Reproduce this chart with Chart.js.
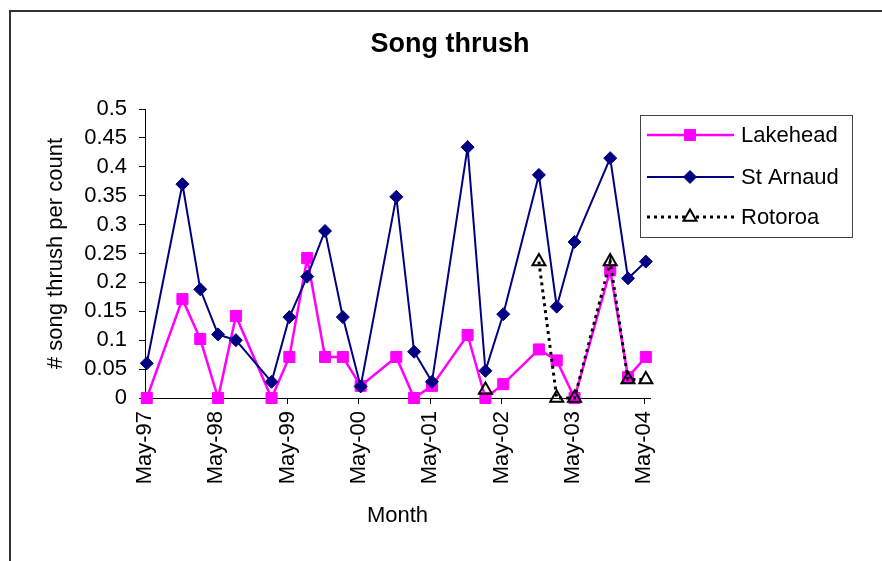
<!DOCTYPE html>
<html>
<head>
<meta charset="utf-8">
<title>Song thrush</title>
<script src="https://cdn.jsdelivr.net/npm/chart.js@4/dist/chart.umd.min.js"></script>
<style>
  html, body { margin: 0; padding: 0; background: #fff; }
  canvas { display: block; }
</style>
</head>
<body>
<canvas id="myChart" width="882" height="561"></canvas>
<script>
// Dados do gráfico
const months = ['May-97', 'Nov-97', 'Feb-98', 'May-98', 'Aug-98', 'Feb-99', 'May-99', 'Aug-99',
    'Nov-99', 'Feb-00', 'May-00', 'Nov-00', 'Feb-01', 'May-01', 'Nov-01', 'Feb-02', 'May-02',
    'Nov-02', 'Feb-03', 'May-03', 'Nov-03', 'Feb-04', 'May-04'];
const sampleDay = 10;

const lakehead = [0, 0.171, 0.102, 0, 0.142, 0, 0.071, 0.242, 0.071, 0.071, 0.021, 0.071,
    0, 0.021, 0.109, 0, 0.024, 0.084, 0.065, 0, 0.221, 0.036, 0.071];
const stArnaud = [0.06, 0.37, 0.188, 0.11, 0.1, 0.028, 0.14, 0.21, 0.289, 0.14, 0.02, 0.348,
    0.08, 0.028, 0.434, 0.047, 0.145, 0.386, 0.158, 0.27, 0.415, 0.207, 0.236];
const rotoroa = [null, null, null, null, null, null, null, null, null, null, null, null,
    null, null, null, 0.014, null, 0.236, 0, 0, 0.236, 0.032, 0.032];

const xTickLabels = ['May-97', 'May-98', 'May-99', 'May-00', 'May-01', 'May-02', 'May-03', 'May-04'];
const yTickLabels = ['0', '0.05', '0.1', '0.15', '0.2', '0.25', '0.3', '0.35', '0.4', '0.45', '0.5'];
const chartTitle = 'Song thrush';

const FONT = 'Arial, "Liberation Sans", sans-serif';
const monthNames = ['Jan', 'Feb', 'Mar', 'Apr', 'May', 'Jun', 'Jul', 'Aug', 'Sep', 'Oct', 'Nov', 'Dec'];

// meses desde May-97
function monthPos(label) {
    const [m, yy] = label.split('-');
    const year = +yy < 50 ? 2000 + +yy : 1900 + +yy;
    return (year - 1997) * 12 + monthNames.indexOf(m) - 4 + (sampleDay - 1) / 30;
}

function toPoints(values) {
    return values.map((v, i) => ({ x: monthPos(months[i]), y: v }));
}

// moldura e título, centrado na moldura
const framePlugin = {
    id: 'frame',
    beforeDraw(chart) {
        const ctx = chart.ctx;
        ctx.save();
        ctx.fillStyle = '#fff';
        ctx.fillRect(0, 0, chart.width, chart.height);
        ctx.strokeStyle = '#333';
        ctx.lineWidth = 2;
        ctx.strokeRect(10, 11, chart.width + 20, chart.height + 20);
        ctx.fillStyle = '#000';
        ctx.font = 'bold 27px ' + FONT;
        ctx.textAlign = 'center';
        ctx.textBaseline = 'middle';
        ctx.fillText(chartTitle, 450, 45);
        ctx.restore();
    }
};

// legenda com caixa
const boxLegend = {
    id: 'boxLegend',
    afterDraw(chart) {
        const ctx = chart.ctx;
        ctx.save();
        ctx.strokeStyle = '#444';
        ctx.lineWidth = 1;
        ctx.setLineDash([]);
        ctx.strokeRect(640.5, 115.5, 212, 122);
        const rows = [135, 177, 217];
        chart.data.datasets.forEach((ds, i) => {
            const y = rows[i];
            ctx.save();
            ctx.strokeStyle = ds.borderColor;
            ctx.lineWidth = ds.borderWidth;
            ctx.setLineDash(ds.borderDash || []);
            ctx.beginPath();
            ctx.moveTo(647, y);
            ctx.lineTo(734, y);
            ctx.stroke();
            ctx.setLineDash([]);
            ctx.fillStyle = ds.legendFill || ds.pointBackgroundColor;
            ctx.strokeStyle = ds.pointBorderColor;
            ctx.lineWidth = ds.pointBorderWidth;
            Chart.helpers.drawPoint(ctx, {
                pointStyle: ds.pointStyle, radius: ds.pointRadius,
                borderWidth: ds.pointBorderWidth, rotation: 0
            }, 690, y);
            ctx.restore();
            ctx.fillStyle = '#000';
            ctx.font = '22px ' + FONT;
            ctx.textBaseline = 'middle';
            ctx.textAlign = 'left';
            ctx.fillText(ds.label, 741, y + 1);
        });
        ctx.restore();
    }
};

const data = {
    datasets: [{
        label: 'Lakehead',
        data: toPoints(lakehead),
        borderColor: '#ff00ff',
        borderWidth: 2.5,
        pointStyle: 'rect',
        pointRadius: 7.8,
        pointBackgroundColor: '#ff00ff',
        pointBorderColor: '#ff00ff',
        pointBorderWidth: 1,
        order: 3
    }, {
        label: 'St Arnaud',
        data: toPoints(stArnaud),
        borderColor: '#000080',
        borderWidth: 2,
        pointStyle: 'rectRot',
        pointRadius: 6.5,
        pointBackgroundColor: '#000080',
        pointBorderColor: '#000080',
        pointBorderWidth: 1,
        order: 2
    }, {
        label: 'Rotoroa',
        data: toPoints(rotoroa),
        borderColor: '#000',
        borderWidth: 3,
        borderDash: [3, 4],
        pointStyle: 'triangle',
        pointRadius: 7.5,
        pointBackgroundColor: 'rgba(255,255,255,0)',
        legendFill: '#fff',
        pointBorderColor: '#000',
        pointBorderWidth: 2,
        spanGaps: false,
        order: 1
    }]
};

const options = {
    responsive: false,
    animation: false,
    clip: false,
    layout: { padding: { left: 10, top: 109, right: 232, bottom: 0 } },
    plugins: {
        legend: { display: false },
        tooltip: { enabled: false },
        title: { display: false }
    },
    scales: {
        x: {
            type: 'linear',
            min: 0,
            max: 85,
            grid: { drawOnChartArea: false, drawTicks: true, tickLength: 6, color: '#000' },
            border: { display: true, color: '#000', width: 1 },
            ticks: {
                stepSize: 12,
                includeBounds: false,
                autoSkip: false,
                minRotation: 90,
                maxRotation: 90,
                padding: 7,
                color: '#000',
                font: { family: FONT, size: 22 },
                callback: v => xTickLabels[Math.round(v / 12)]
            },
            title: {
                display: true,
                text: 'Month',
                color: '#000',
                font: { family: FONT, size: 22 },
                padding: { top: 0, bottom: 32 }
            },
            afterFit(scale) {
                scale.height = 163;
                scale.paddingLeft = 0;
                scale.paddingRight = 0;
            }
        },
        y: {
            min: 0,
            max: 0.5,
            grid: { drawOnChartArea: false, drawTicks: true, tickLength: 6, color: '#000' },
            border: { display: true, color: '#000', width: 1 },
            ticks: {
                stepSize: 0.05,
                autoSkip: false,
                padding: 12,
                color: '#000',
                font: { family: FONT, size: 22 },
                callback: (v, i) => yTickLabels[i]
            },
            title: {
                display: true,
                text: '# song thrush per count',
                color: '#000',
                font: { family: FONT, size: 22 },
                padding: { top: 33, bottom: 0 }
            },
            afterFit(scale) {
                scale.width = 135;
                scale.paddingTop = 0;
                scale.paddingBottom = 0;
            }
        }
    }
};

const ctx = document.getElementById('myChart').getContext('2d');
const myChart = new Chart(ctx, {
    type: 'line',
    data: data,
    options: options,
    plugins: [framePlugin, boxLegend]
});
</script>
</body>
</html>
